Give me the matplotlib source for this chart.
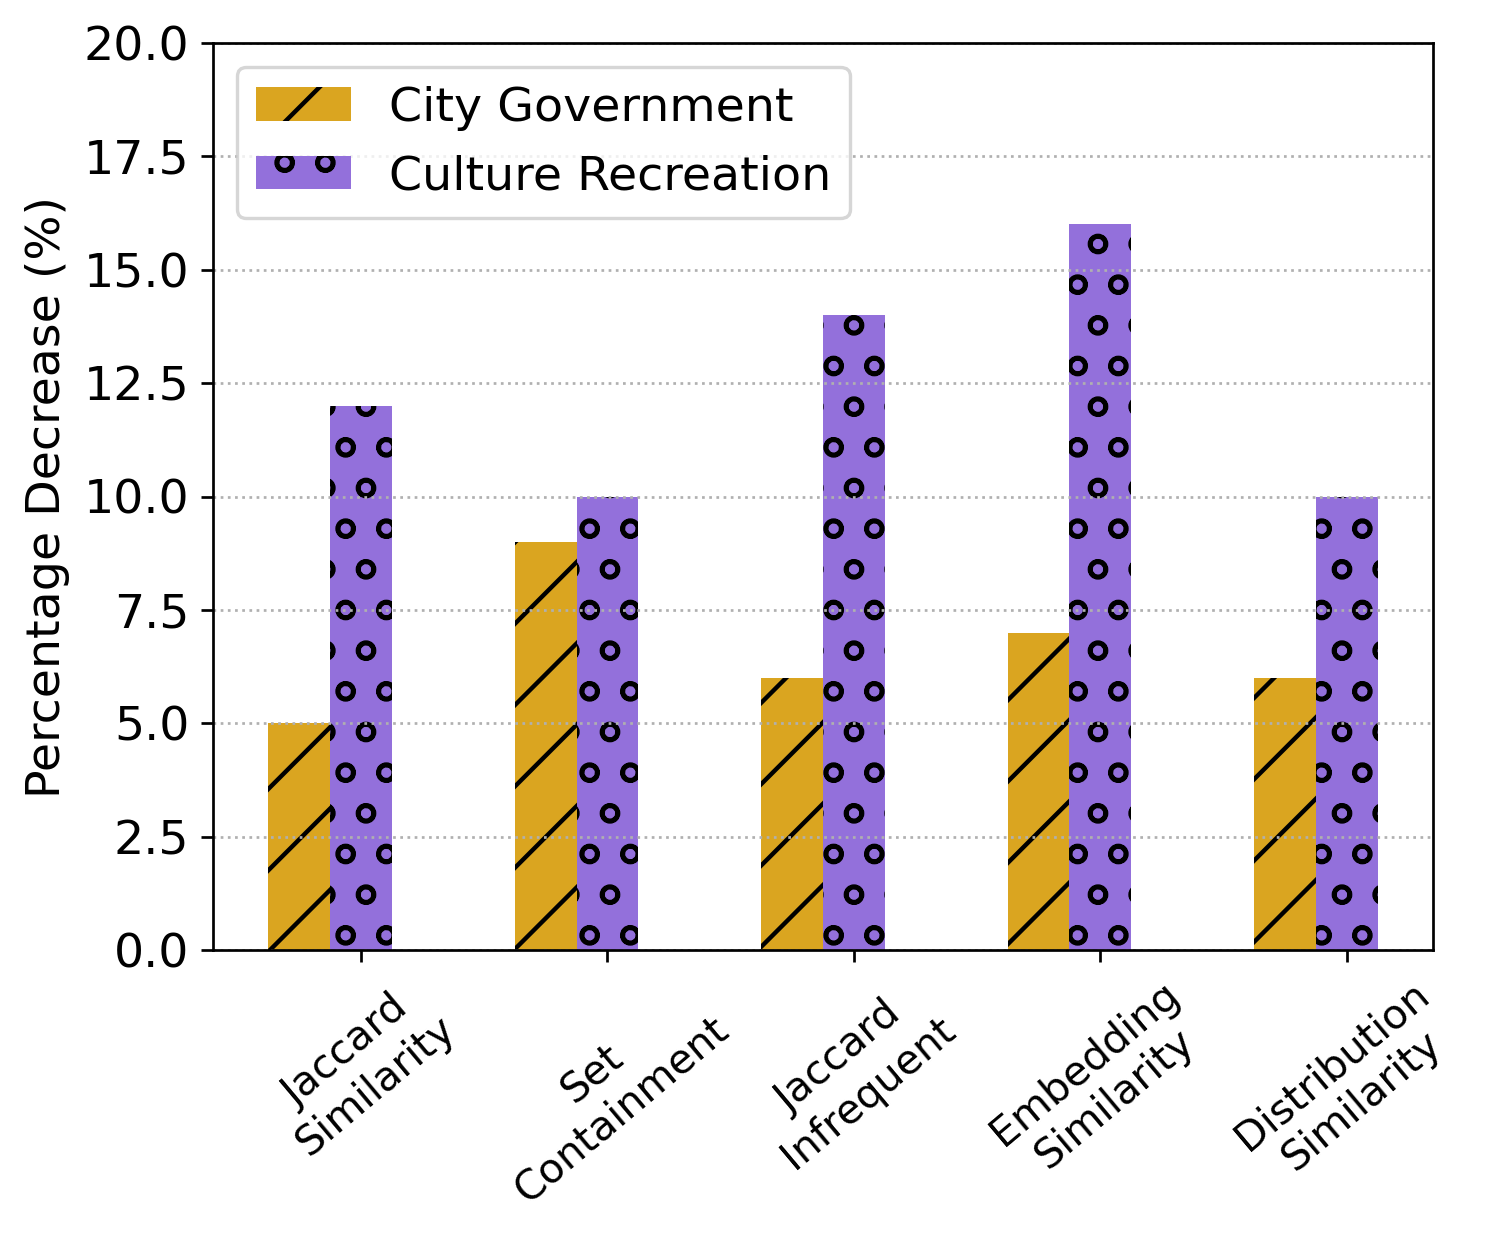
import matplotlib
matplotlib.use("Agg")
import matplotlib.pyplot as plt
import numpy as np

categories = ["Jaccard\nSimilarity", "Set\nContainment", "Jaccard\nInfrequent",
              "Embedding\nSimilarity", "Distribution\nSimilarity"]
city_government = [5, 9, 6, 7, 6]
culture_recreation = [12, 10, 14, 16, 10]
yticks = [0.0, 2.5, 5.0, 7.5, 10.0, 12.5, 15.0, 17.5, 20.0]

plt.rcParams['hatch.linewidth'] = 1.3

DPI = 244
fs = 14
fig = plt.figure(figsize=(1496/DPI, 1244/DPI), dpi=DPI)
ax = fig.add_axes([213/1496, 1-950/1244, (1433-213)/1496, (950-43)/1244])

x = np.arange(len(categories))
w = 0.25
ax.bar(x - w, city_government, w, color="goldenrod", hatch="/", label="City Government")
ax.bar(x, culture_recreation, w, color="mediumpurple", hatch="o", label="Culture Recreation")

ax.set_ylim(0, 20)
ax.set_yticks(yticks)
ax.set_yticklabels([f"{v:.1f}" for v in yticks], fontsize=fs)
ax.set_xticks(x)
ax.set_xticklabels(categories, rotation=40, ha="center", fontsize=12.1)
ax.set_ylabel("Percentage Decrease (%)", fontsize=fs)
ax.yaxis.grid(True, linestyle=":", color="#b0b0b0")
ax.legend(loc="upper left", fontsize=fs)

fig.savefig("out.png", dpi=DPI)
